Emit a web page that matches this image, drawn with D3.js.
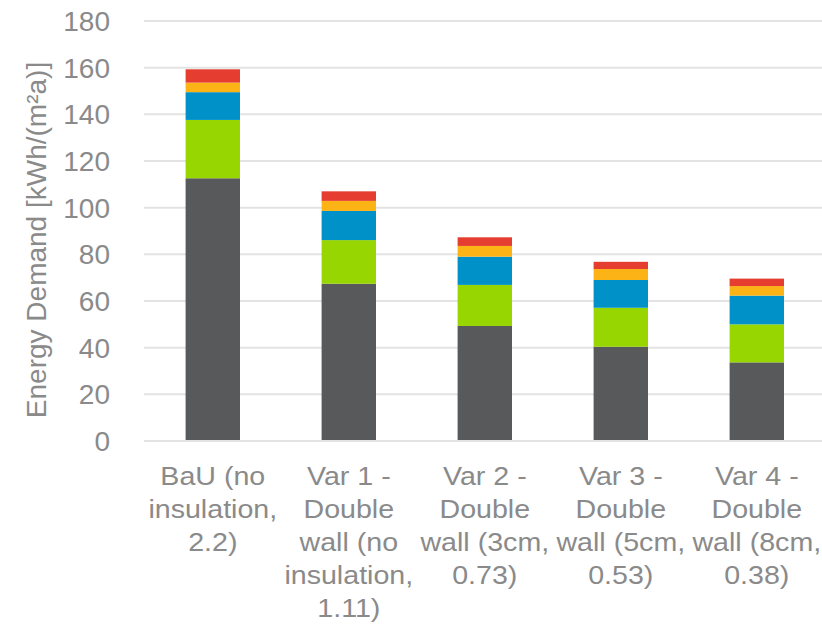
<!DOCTYPE html>
<html>
<head>
<meta charset="utf-8">
<script src="https://cdn.jsdelivr.net/npm/d3@7"></script>
<style>
  html, body { margin: 0; padding: 0; background: #ffffff; }
  svg { display: block; font-family: "Liberation Sans", Arial, sans-serif; }
</style>
</head>
<body>
<svg id="chart" width="822" height="624"></svg>
<script>
// Wall variants (category labels, wrapped as shown on the axis)
const categories = ["BaU", "Var 1", "Var 2", "Var 3", "Var 4"];
const categoryLines = [
  ["BaU (no", "insulation,", "2.2)"],
  ["Var 1 -", "Double", "wall (no", "insulation,", "1.11)"],
  ["Var 2 -", "Double", "wall (3cm,", "0.73)"],
  ["Var 3 -", "Double", "wall (5cm,", "0.53)"],
  ["Var 4 -", "Double", "wall (8cm,", "0.38)"]
];

// Stacked components of the energy demand, bottom to top, kWh/(m²a)
const seriesA = [112.6, 67.4, 49.3, 40.4, 33.7];
const seriesB = [25.0, 18.7, 17.6, 16.7, 16.3];
const seriesC = [11.9, 12.5, 12.1, 11.9, 12.3];
const seriesD = [4.1, 4.3, 4.6, 4.7, 4.1];
const seriesE = [5.7, 4.1, 3.7, 3.1, 3.2];
const seriesColors = ["#58595b", "#97d600", "#0091c9", "#fcb315", "#e53d30"];

const yTicks = [0, 20, 40, 60, 80, 100, 120, 140, 160, 180];
const yTitle = "Energy Demand [kWh/(m²a)]";

const seriesKeys = ["a", "b", "c", "d", "e"];
const seriesValues = [seriesA, seriesB, seriesC, seriesD, seriesE];
const rows = categories.map((c, i) => {
  const r = { cat: c };
  seriesKeys.forEach((k, j) => { r[k] = seriesValues[j][i]; });
  return r;
});

const svg = d3.select("#chart");
const textColor = "#8a8a8a";
const gridColor = "#e3e3e3";

const x = d3.scaleBand()
  .domain(categories)
  .range([144.8, 824.8])
  .paddingInner(0.6)
  .paddingOuter(0.3);

const y = d3.scaleLinear().domain([0, 180]).range([441, 21]);

// Horizontal gridlines
svg.append("g")
  .selectAll("line")
  .data(yTicks)
  .join("line")
  .attr("x1", 144)
  .attr("x2", 822)
  .attr("y1", d => y(d))
  .attr("y2", d => y(d))
  .attr("stroke", gridColor)
  .attr("stroke-width", 2);

// Y tick labels
svg.append("g")
  .selectAll("text")
  .data(yTicks)
  .join("text")
  .attr("x", 110)
  .attr("y", d => y(d) + 10)
  .attr("text-anchor", "end")
  .attr("fill", textColor)
  .attr("font-size", 28)
  .text(d => d);

// Y axis title
svg.append("text")
  .attr("transform", "translate(46,240) rotate(-90)")
  .attr("text-anchor", "middle")
  .attr("fill", textColor)
  .attr("font-size", 28)
  .text(yTitle);

// Stacked bars
const stack = d3.stack().keys(seriesKeys);
const layers = stack(rows);

svg.append("g")
  .selectAll("g")
  .data(layers)
  .join("g")
  .attr("fill", (d, i) => seriesColors[i])
  .selectAll("rect")
  .data(d => d)
  .join("rect")
  .attr("x", d => x(d.data.cat))
  .attr("width", x.bandwidth())
  .attr("y", d => y(d[1]))
  .attr("height", d => y(d[0]) - y(d[1]));

// Baseline
svg.append("line")
  .attr("x1", 144).attr("x2", 822)
  .attr("y1", y(0)).attr("y2", y(0))
  .attr("stroke", gridColor)
  .attr("stroke-width", 2);

// Category labels (slightly widened type)
const labelGroups = svg.append("g")
  .selectAll("text")
  .data(categories)
  .join("text")
  .attr("text-anchor", "middle")
  .attr("fill", textColor)
  .attr("font-size", 26)
  .attr("transform", d => `translate(${x(d) + x.bandwidth() / 2},485) scale(1.1,1)`);

labelGroups.selectAll("tspan")
  .data((d, i) => categoryLines[i])
  .join("tspan")
  .attr("x", 0)
  .attr("y", (d, i) => i * 33)
  .text(d => d);
</script>
</body>
</html>
